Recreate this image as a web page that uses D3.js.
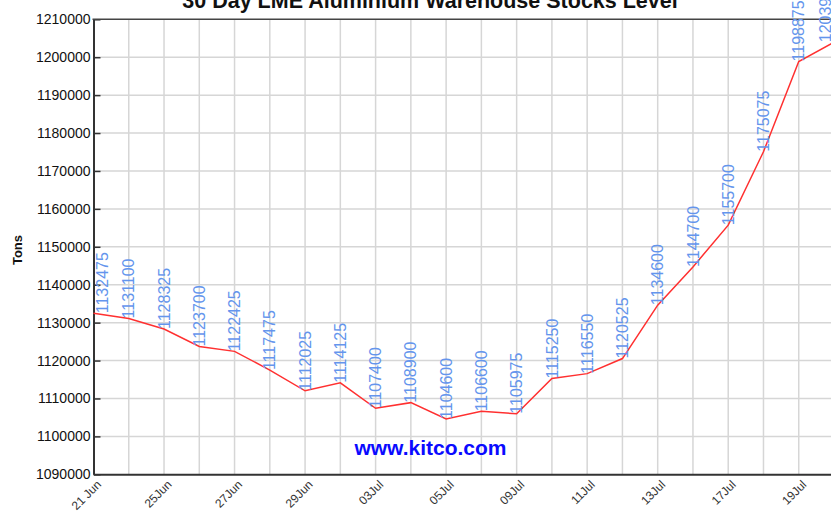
<!DOCTYPE html>
<html>
<head>
<meta charset="utf-8">
<script src="https://cdn.jsdelivr.net/npm/d3@7"></script>
<style>
  body { margin: 0; background: #fff; }
  svg { display: block; font-family: Arial, "Liberation Sans", sans-serif; }
</style>
</head>
<body>
<svg id="chart" width="831" height="512"></svg>
<script>
// trading days shown on the chart
const dates = ['21 Jun', '22Jun', '25Jun', '26Jun', '27Jun', '28Jun', '29Jun',
  '02Jul', '03Jul', '04Jul', '05Jul', '06Jul', '09Jul', '10Jul', '11Jul',
  '12Jul', '13Jul', '16Jul', '17Jul', '18Jul', '19Jul', '20Jul']

const stocks = [1132475, 1131100, 1128325, 1123700, 1122425, 1117475, 1112025,
  1114125, 1107400, 1108900, 1104600, 1106600, 1105975, 1115250, 1116550,
  1120525, 1134600, 1144700, 1155700, 1175075, 1198875, 1203950]

const tickDates = ['21 Jun', '25Jun', '27Jun', '29Jun', '03Jul', '05Jul',
  '09Jul', '11Jul', '13Jul', '17Jul', '19Jul']

const yTicks = d3.range(1090000, 1210001, 10000)

const width = 831
const plotLeft = 93.5
const plotRight = 834
const plotTop = 19.3
const plotBottom = 474.3

const svg = d3.select('svg#chart')

const x = d3.scalePoint().domain(dates).range([plotLeft, plotRight])
const y = d3.scaleLinear().domain([1090000, 1210000]).range([plotBottom, plotTop])

// grid
svg.append('g')
  .selectAll('line')
  .data(dates.slice(1))
  .enter()
  .append('line')
  .attr('x1', d => x(d))
  .attr('x2', d => x(d))
  .attr('y1', plotTop)
  .attr('y2', plotBottom)
  .attr('stroke', '#d6d6d6')
  .attr('stroke-width', 1.5)

svg.append('g')
  .selectAll('line')
  .data(yTicks.slice(1, -1))
  .enter()
  .append('line')
  .attr('x1', plotLeft)
  .attr('x2', width)
  .attr('y1', d => y(d))
  .attr('y2', d => y(d))
  .attr('stroke', '#d6d6d6')
  .attr('stroke-width', 1.5)

// watermark
svg.append('text')
  .attr('x', 430.5)
  .attr('y', 455)
  .attr('text-anchor', 'middle')
  .style('font-size', '21px')
  .style('font-weight', 'bold')
  .style('fill', '#0a0aff')
  .text('www.kitco.com')

// y axis
const yAxis = d3.axisLeft(y)
  .tickValues(yTicks)
  .tickFormat(d3.format('d'))
  .tickSizeInner(-7)
  .tickSizeOuter(0)
const yG = svg.append('g').attr('transform', `translate(${plotLeft},0)`).call(yAxis)
yG.select('.domain').attr('stroke', '#333').attr('stroke-width', 2)
yG.selectAll('.tick line').attr('stroke', '#333').attr('stroke-width', 1.5)
yG.selectAll('.tick text')
  .attr('x', -3)
  .style('font-size', '14px')
  .style('font-family', 'Arial, "Liberation Sans", sans-serif')
  .style('fill', '#111')

// x axis
const xAxis = d3.axisBottom(x).tickValues(tickDates).tickSize(0).tickSizeOuter(0)
const xG = svg.append('g').attr('transform', `translate(0,${plotBottom})`).call(xAxis)
xG.select('.domain').attr('stroke', '#333').attr('stroke-width', 2)
xG.selectAll('.tick text')
  .attr('text-anchor', 'end')
  .attr('dy', null)
  .attr('y', 0)
  .attr('transform', 'translate(8,11) rotate(-45)')
  .style('font-size', '12px')
  .style('font-family', 'Arial, "Liberation Sans", sans-serif')
  .style('fill', '#333')

// top border
svg.append('line')
  .attr('x1', plotLeft - 1)
  .attr('x2', width)
  .attr('y1', plotTop)
  .attr('y2', plotTop)
  .attr('stroke', '#444')
  .attr('stroke-width', 1.5)

// series line
const line = d3.line()
  .x((d, i) => x(dates[i]))
  .y(d => y(d))

svg.append('path')
  .datum(stocks)
  .attr('d', line)
  .attr('fill', 'none')
  .attr('stroke', '#ff3030')
  .attr('stroke-width', 1.5)

// value labels
svg.append('g')
  .selectAll('text')
  .data(stocks)
  .enter()
  .append('text')
  .attr('transform', (d, i) => {
    const px = Math.min(Math.max(x(dates[i]), plotLeft + 9), width - 6)
    return `translate(${px},${y(d)}) rotate(-90)`
  })
  .attr('dy', '0.35em')
  .style('font-size', '16px')
  .style('fill', '#6495ed')
  .text(d => d)

// title
svg.append('text')
  .attr('x', 430)
  .attr('y', 8)
  .attr('text-anchor', 'middle')
  .style('font-size', '21.5px')
  .style('font-weight', 'bold')
  .style('fill', '#111')
  .text('30 Day LME Aluminium Warehouse Stocks Level')

// y label
svg.append('text')
  .attr('transform', 'translate(22,250) rotate(-90)')
  .attr('text-anchor', 'middle')
  .style('font-size', '13px')
  .style('font-weight', 'bold')
  .style('fill', '#111')
  .text('Tons')
</script>
</body>
</html>
